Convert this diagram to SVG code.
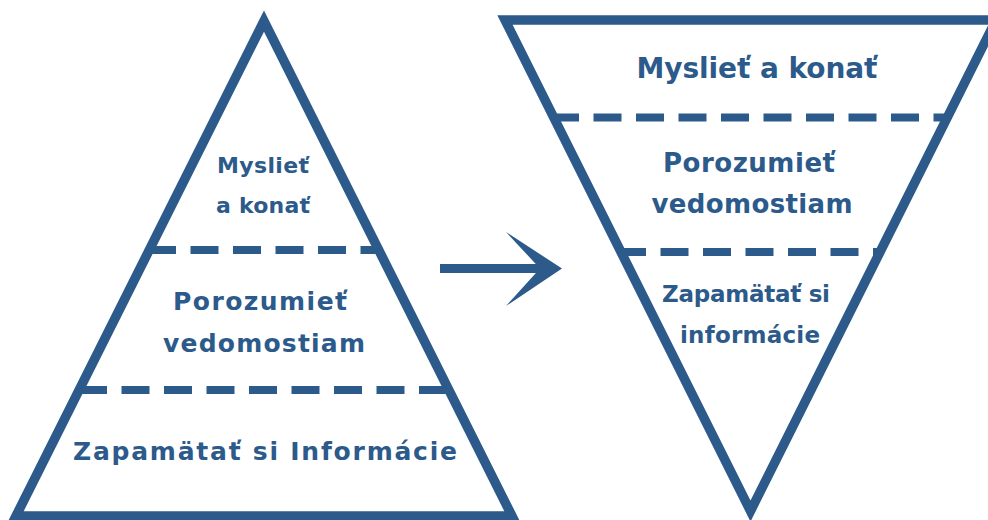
<svg xmlns="http://www.w3.org/2000/svg" width="988" height="520" viewBox="0 0 988 520">
  <style>
    .tri { fill: none; stroke: #2c5a8b; stroke-width: 9.5; stroke-linejoin: miter; stroke-miterlimit: 10; }
    .dash { fill: none; stroke: #2c5a8b; stroke-width: 8; stroke-dasharray: 28 14.5; }
    .t { font-family: "DejaVu Sans", "Liberation Sans", sans-serif; font-weight: 700; fill: #2c5a8b; text-anchor: middle; }
  </style>
  <rect width="988" height="520" fill="#ffffff"/>

  <g id="pyramid-left">
    <polygon class="tri" points="264,21 16,516 512,516"/>
    <line class="dash" x1="148" y1="250" x2="378" y2="250"/>
    <line class="dash" x1="79" y1="390" x2="447" y2="390"/>
  </g>
  <g id="left-top">
    <text class="t" x="263" y="173" font-size="22" textLength="92">Myslieť</text>
    <text class="t" x="263" y="213" font-size="22" textLength="94">a konať</text>
  </g>
  <g id="left-middle">
    <text class="t" x="260" y="310" font-size="25" textLength="174">Porozumieť</text>
    <text class="t" x="264" y="352" font-size="25" textLength="202">vedomostiam</text>
  </g>
  <g id="left-bottom">
    <text class="t" x="265" y="460" font-size="25" textLength="384">Zapamätať si Informácie</text>
  </g>

  <g id="pyramid-right">
    <polygon class="tri" points="505,20 996,20 750.5,511"/>
    <line class="dash" x1="551" y1="117.5" x2="950" y2="117.5"/>
    <line class="dash" x1="618" y1="252" x2="880" y2="252"/>
  </g>
  <g id="right-top">
    <text class="t" x="757" y="78" font-size="28" textLength="241">Myslieť a konať</text>
  </g>
  <g id="right-middle">
    <text class="t" x="749" y="172" font-size="26" textLength="172">Porozumieť</text>
    <text class="t" x="752" y="213" font-size="26" textLength="201">vedomostiam</text>
  </g>
  <g id="right-bottom">
    <text class="t" x="746" y="302" font-size="23" textLength="168">Zapamätať si</text>
    <text class="t" x="750" y="343" font-size="23" textLength="140">informácie</text>
  </g>

  <g id="connectors">
    <rect x="440" y="264" width="104" height="9" fill="#2c5a8b"/>
    <polygon points="506,232 562,268.5 506,306 540,268.5" fill="#2c5a8b"/>
  </g>
</svg>
